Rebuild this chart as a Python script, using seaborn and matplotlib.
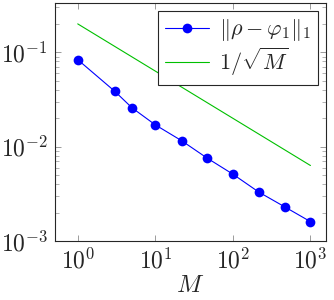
import matplotlib
matplotlib.use("Agg")
import matplotlib.pyplot as plt
import seaborn as sns

# values
M_values = [1, 3, 5, 10, 22, 46, 100, 215, 464, 1000]
err_values = [0.0835, 0.0386, 0.0258, 0.0170, 0.0115, 0.0076, 0.0051, 0.0033, 0.0023, 0.0016]
ref_M = [1, 1000]
ref_values = [0.2, 0.0063]

sns.set_style("ticks")
plt.rcParams['mathtext.fontset'] = 'cm'
plt.rcParams['font.family'] = ['DejaVu Serif']

fig = plt.figure(figsize=(3.34, 3.0), dpi=100)
ax = fig.add_axes([0.164, 0.197, 0.811, 0.793])

sns.lineplot(x=M_values, y=err_values, ax=ax, color=(0, 0, 1), marker='o',
             markersize=7, markeredgewidth=0, linewidth=0.8,
             label=r'$\|\rho - \varphi_1\|_1$')
sns.lineplot(x=ref_M, y=ref_values, ax=ax, color='#00c000', linewidth=0.8,
             label=r'$1/\sqrt{M}$')

ax.set_xscale('log')
ax.set_yscale('log')
ax.set_xlim(0.506, 1570)
ax.set_ylim(1e-3, 0.333)
ax.set_xticks([1, 10, 100, 1000])
ax.set_yticks([1e-3, 1e-2, 1e-1])
ax.set_xticklabels([r'$10^{0}$', r'$10^{1}$', r'$10^{2}$', r'$10^{3}$'])
ax.set_yticklabels([r'$10^{-3}$', r'$10^{-2}$', r'$10^{-1}$'])

ax.tick_params(which='both', direction='in', top=True, right=True, labelsize=17)
ax.tick_params(which='major', length=4.5, width=0.6, color='0.55', pad=5)
ax.tick_params(which='minor', length=3, width=0.6, color='0.65')
for side in ax.spines.values():
    side.set_linewidth(0.8)
    side.set_color('0.15')

ax.set_xlabel(r'$M$', fontsize=18, labelpad=1)
ax.set_ylabel('')

leg = ax.legend(loc='upper right', fontsize=16, frameon=True, fancybox=False,
                edgecolor='0.15', framealpha=1, borderpad=0.3, handlelength=2.0,
                handletextpad=0.45, labelspacing=0.1, borderaxespad=0.35)
leg.get_frame().set_linewidth(0.8)

fig.savefig('out.png', dpi=100)
